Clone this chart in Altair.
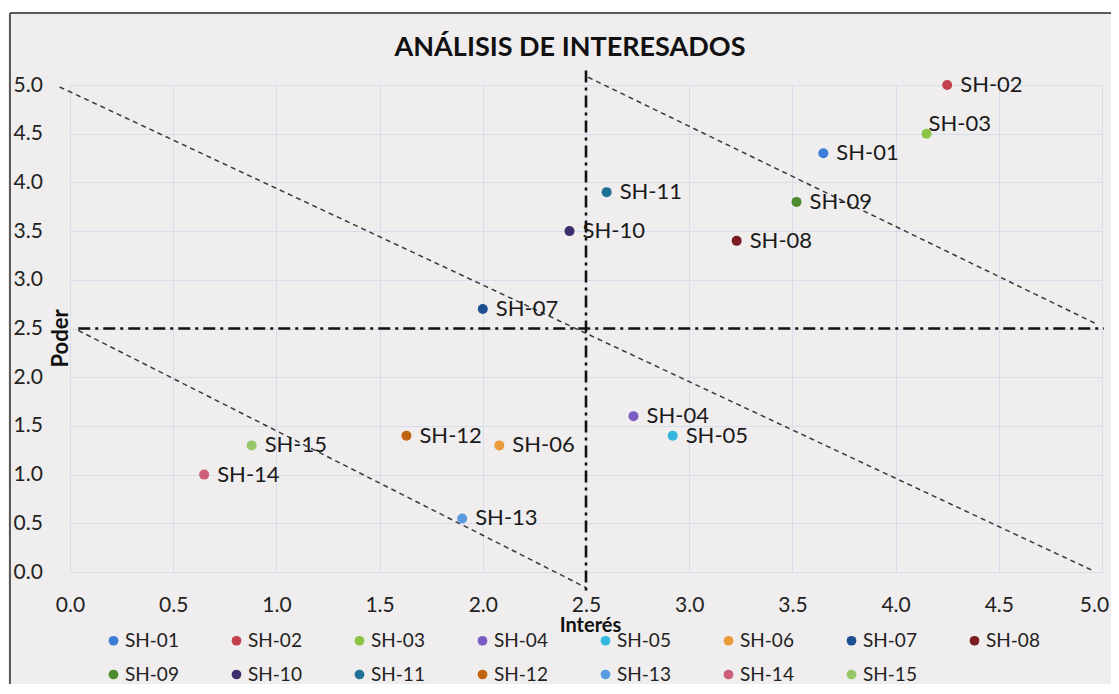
import altair as alt
import pandas as pd

# ---- data ----
stakeholders = ["SH-01", "SH-02", "SH-03", "SH-04", "SH-05", "SH-06", "SH-07", "SH-08",
                "SH-09", "SH-10", "SH-11", "SH-12", "SH-13", "SH-14", "SH-15"]
interes = [3.65, 4.25, 4.15, 2.73, 2.92, 2.08, 2.00, 3.23, 3.52, 2.42, 2.60, 1.63, 1.90, 0.65, 0.88]
poder = [4.30, 5.00, 4.50, 1.60, 1.40, 1.30, 2.70, 3.40, 3.80, 3.50, 3.90, 1.40, 0.55, 1.00, 1.30]
colors = ["#3A7FD5", "#C3414C", "#8DC446", "#7A5CC2", "#33B7DD", "#EB9A3A", "#1E4F91", "#7A1D22",
          "#4E8A2E", "#3E2E6E", "#1F7196", "#C0630F", "#5A9BE0", "#CC5E78", "#98C76A"]
tick_values = [0.0, 0.5, 1.0, 1.5, 2.0, 2.5, 3.0, 3.5, 4.0, 4.5, 5.0]

# dashed diagonal guide lines (segment id, x, y)
diag_seg = ["d1", "d1", "d2", "d2", "d3", "d3"]
diag_x = [-0.05, 4.95, 2.51, 4.98, 0.04, 2.50]
diag_y = [4.98, 0.02, 5.08, 2.54, 2.48, -0.16]

# dash-dot quadrant lines
quad_seg = ["v", "v", "h", "h"]
quad_x = [2.50, 2.50, 0.04, 5.01]
quad_y = [5.15, -0.20, 2.50, 2.50]

FONT = "Lato"

pts = pd.DataFrame({"sh": stakeholders, "interes": interes, "poder": poder})
diag = pd.DataFrame({"seg": diag_seg, "x": diag_x, "y": diag_y, "o": list(range(len(diag_x)))})
quad = pd.DataFrame({"seg": quad_seg, "x": quad_x, "y": quad_y, "o": list(range(len(quad_x)))})

xscale = alt.Scale(domain=[0, 5], nice=False, zero=False)
yscale = alt.Scale(domain=[0, 5], nice=False, zero=False)

xaxis = alt.Axis(values=tick_values, format=".1f", grid=True, gridColor="#D6DEEC", gridWidth=1,
                 domain=False, ticks=False, labelFont=FONT, labelFontSize=21, labelColor="#222222",
                 labelPadding=22, labelFlush=False, labelOverlap=False,
                 labelOffset={"condition": {"test": "datum.value >= 5", "value": -8}, "value": 0},
                 title="Interés", titleFont=FONT, titleFontSize=20, titleFontWeight="bold",
                 titleColor="#111111", titleX=520, titleY=59, titleBaseline="alphabetic",
                 titleAlign="center")
yaxis = alt.Axis(values=tick_values, format=".1f", grid=True, gridColor="#D6DEEC", gridWidth=1,
                 domain=False, ticks=False, labelFont=FONT, labelFontSize=21, labelColor="#222222",
                 labelAlign="left", labelPadding=57, labelBaseline="middle", labelFlush=False,
                 labelOverlap=False,
                 title="Poder", titleFont=FONT, titleFontSize=22, titleFontWeight="bold",
                 titleColor="#111111", titleAngle=270, titleX=-10, titleY=253,
                 titleBaseline="middle", titleAlign="center")

base_pts = alt.Chart(pts)

points = base_pts.mark_circle(size=100, opacity=1).encode(
    x=alt.X("interes:Q", scale=xscale, axis=xaxis),
    y=alt.Y("poder:Q", scale=yscale, axis=yaxis),
    color=alt.Color("sh:N", scale=alt.Scale(domain=stakeholders, range=colors),
                    legend=alt.Legend(orient="none", legendX=34, legendY=546, direction="horizontal",
                                      columns=8, title=None, labelFont=FONT, labelFontSize=19,
                                      labelColor="#222222", symbolSize=95, symbolType="circle",
                                      symbolStrokeWidth=0, columnPadding=48, rowPadding=14,
                                      padding=0, labelOffset=2, gridAlign="all")),
)

labels_main = base_pts.transform_filter(alt.datum.sh != "SH-03").mark_text(
    align="left", baseline="middle", dx=13, font=FONT, fontSize=22, color="#1A1A1A"
).encode(
    x=alt.X("interes:Q", scale=xscale, axis=xaxis),
    y=alt.Y("poder:Q", scale=yscale, axis=yaxis),
    text="sh:N",
)
labels_up = base_pts.transform_filter(alt.datum.sh == "SH-03").mark_text(
    align="left", baseline="middle", dx=2, dy=-10, font=FONT, fontSize=22, color="#1A1A1A"
).encode(
    x=alt.X("interes:Q", scale=xscale, axis=xaxis),
    y=alt.Y("poder:Q", scale=yscale, axis=yaxis),
    text="sh:N",
)

diag_lines = alt.Chart(diag).mark_line(color="#3A3A3A", strokeWidth=1.5, strokeDash=[5, 4]).encode(
    x=alt.X("x:Q", scale=xscale, axis=xaxis),
    y=alt.Y("y:Q", scale=yscale, axis=yaxis),
    detail="seg:N",
    order="o:Q",
)
quad_lines = alt.Chart(quad).mark_line(color="#111111", strokeWidth=2.6, strokeDash=[12, 5, 3, 5]).encode(
    x=alt.X("x:Q", scale=xscale, axis=xaxis),
    y=alt.Y("y:Q", scale=yscale, axis=yaxis),
    detail="seg:N",
    order="o:Q",
)

# decorative frame (top and left edges of the original chart box)
frame_src = alt.Chart(pd.DataFrame({"k": [0]}))
white_strip = frame_src.mark_rule(color="white", strokeWidth=6).encode(
    x=alt.value(-70), x2=alt.value(1100), y=alt.value(-75))
frame_top = frame_src.mark_rule(color="#5A5A5A", strokeWidth=2).encode(
    x=alt.value(-60), x2=alt.value(1100), y=alt.value(-72))
frame_left = frame_src.mark_rule(color="#5A5A5A", strokeWidth=2).encode(
    x=alt.value(-60), y=alt.value(-72), y2=alt.value(700))

chart = alt.layer(
    white_strip, frame_top, frame_left, diag_lines, quad_lines, points, labels_main, labels_up
).properties(
    width=1032,
    height=487,
    title=alt.TitleParams("ANÁLISIS DE INTERESADOS", font=FONT, fontSize=27, fontWeight="bold",
                          color="#111111", anchor="middle", dx=-16, baseline="alphabetic",
                          offset=-76),
    autosize=alt.AutoSizeParams(type="none"),
    padding={"left": 62, "top": 77, "right": 9, "bottom": 112},
    background="#EFEDED",
).configure_view(stroke=None)

chart.save("out.html", embed_options={"renderer": "svg", "actions": False})
